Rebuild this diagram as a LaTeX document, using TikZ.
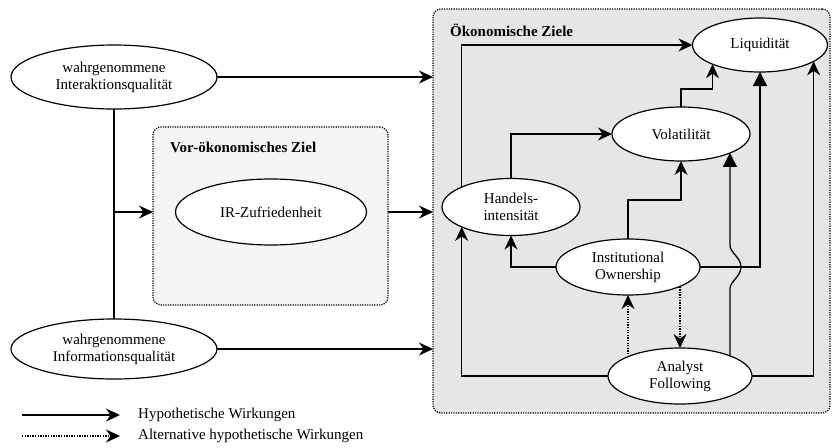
\documentclass[tikz,border=0pt]{standalone}
\usepackage{fontspec}
\setmainfont{Liberation Serif}
\usetikzlibrary{arrows.meta,calc,shapes.geometric}

\definecolor{oekfill}{HTML}{E6E6E6}
\definecolor{vorfill}{HTML}{F5F5F5}

\begin{document}
\begin{tikzpicture}[x=1pt,y=-1pt,
  txt/.style={font=\fontsize{15}{17}\selectfont, text=black},
  lbl/.style={font=\fontsize{15}{17}\selectfont\bfseries, text=black, anchor=west, inner sep=0pt},
  ell/.style={ellipse, draw, line width=1.2pt, fill=white, inner sep=0pt, outer sep=0pt, align=center, txt},
  group/.style={draw, line width=1.2pt, dash pattern=on 1.2pt off 1.2pt, rounded corners=8pt,
                anchor=north west, inner sep=0pt, outer sep=0pt},
  conn/.style={line width=1.3pt},
  flow/.style={conn, -{Stealth[length=14pt,width=13pt,inset=4.5pt]}},
  dflow/.style={flow, dash pattern=on 1.3pt off 1.3pt},
  block/.style={conn, -{Triangle[length=14pt,width=14pt]}}
]
\useasboundingbox (0,0) rectangle (832,447);

% group containers
\node[group, fill=oekfill, minimum width=397pt, minimum height=404pt] (oek) at (433,9) {};
\node[group, fill=vorfill, minimum width=235pt, minimum height=178pt] (vor) at (153,127) {};
\node[lbl] (oeklbl) at (450,30) {Ökonomische Ziele};
\node[lbl] (vorlbl) at (170,147) {Vor-ökonomisches Ziel};

% constructs
\node[ell, minimum width=206pt, minimum height=64pt] (intq) at (114,77) {wahrgenommene\\Interaktionsqualität};
\node[ell, minimum width=206pt, minimum height=60pt] (infq) at (114,349) {wahrgenommene\\Informationsqualität};
\node[ell, minimum width=191pt, minimum height=66pt] (irz) at (271,212) {IR-Zufriedenheit};
\node[ell, minimum width=135pt, minimum height=54pt] (liq) at (760,45) {Liquidität};
\node[ell, minimum width=138pt, minimum height=54pt] (vol) at (681,134) {Volatilität};
\node[ell, minimum width=138pt, minimum height=57pt] (hand) at (511,207) {Handels-\\intensität};
\node[ell, minimum width=144pt, minimum height=56pt] (io) at (628,267) {Institutional\\Ownership};
\node[ell, minimum width=144pt, minimum height=56pt] (af) at (680,376) {Analyst\\Following};

% perceived quality -> goals
\draw[flow] (intq.east) -- (intq.east -| oek.west);
\draw[flow] (infq.east) -- (infq.east -| oek.west);
\draw[conn] (intq.south) -- (infq.north);
\draw[flow] (intq.south |- irz.center) -- (irz.center -| vor.west);
\draw[flow] (irz.center -| vor.east) -- (irz.center -| oek.west);

% economic goals
\draw[flow] (hand.158) |- (liq.west);
\draw[flow] (af.west) -| (hand.-158);
\draw[flow] (hand.north) |- (vol.west);
\draw[flow] (vol.north) -- ++(0,-18) -| (liq.-158);
\draw[flow] (io.west) -| (hand.south);
\draw[flow] (io.north) -- ++(0,-39) -| (vol.south);
\draw[block] (io.east) -| (liq.south);
\draw[block] (af.22) -- ([yshift=-22pt]af.22 |- io.east)
  .. controls +(0,-8) and +(0,10) .. ([xshift=11pt]af.22 |- io.east)
  .. controls +(0,-10) and +(0,8) .. ([yshift=22pt]af.22 |- io.east)
  -- (af.22 |- vol.-21);
\draw[flow] (af.east) -| (liq.-17);
\draw[dflow] (io.south |- af.160) -- (io.south);
\draw[dflow] (af.north |- io.-21) -- (af.north);

% legend
\coordinate (leg1a) at (22,415);
\coordinate (leg1b) at (120,415);
\coordinate (leg2a) at (22,436);
\coordinate (leg2b) at (120,436);
\draw[flow] (leg1a) -- (leg1b);
\draw[dflow] (leg2a) -- (leg2b);
\node[txt, anchor=west, inner sep=0pt] (leg1t) at (138,415) {Hypothetische Wirkungen};
\node[txt, anchor=west, inner sep=0pt] (leg2t) at (138,436) {Alternative hypothetische Wirkungen};
\end{tikzpicture}
\end{document}
